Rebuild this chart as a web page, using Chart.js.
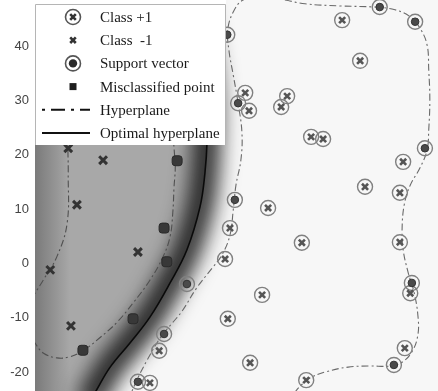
<!DOCTYPE html>
<html>
<head>
<meta charset="utf-8">
<script src="https://cdn.jsdelivr.net/npm/chart.js@4/dist/chart.umd.min.js"></script>
<style>
html, body { margin: 0; padding: 0; background: #fff; }
#wrap { width: 438px; height: 391px; position: relative; }
</style>
</head>
<body>
<div id="wrap"><canvas id="chart"></canvas></div>
<script>
let yTicks = [40, 30, 20, 10, 0, -10, -20];
let xRange = [-25, 49];
let yRange = [-23.5, 48.5];
let legendLabels = ["Class +1", "Class  -1", "Support vector", "Misclassified point", "Hyperplane", "Optimal hyperplane"];

// class -1 samples
let negX = [-18.9, -12.5, -17.3, -6.1, -22.2, -18.4];
let negY = [21.2, 19.0, 10.8, 2.1, -1.2, -11.5];

// misclassified points
let misX = [1.1, -1.3, -0.8, -7.0, -16.2];
let misY = [18.9, 6.5, 0.3, -10.2, -16.0];

// support vectors
let svX = [10.3, 12.3, 38.3, 44.8, 46.6, 11.7, 2.9, -1.3, -6.1, 44.2, 40.9];
let svY = [42.1, 29.5, 47.2, 44.5, 21.2, 11.7, -3.8, -13.0, -21.8, -3.6, -18.7];

// class +1 samples
let posX = [13.6, 14.3, 21.3, 20.2, 31.4, 34.7, 25.7, 27.9, 42.6, 35.6, 42.0, 17.8, 10.8, 24.0, 42.0, 9.9, 16.7, 43.9, 10.4, -2.2, 42.9, 14.5, 24.8, -3.9];
let posY = [31.4, 28.1, 30.8, 28.8, 44.8, 37.3, 23.3, 22.9, 18.7, 14.1, 13.0, 10.2, 6.5, 3.8, 3.9, 0.8, -5.8, -5.5, -10.2, -16.1, -15.6, -18.3, -21.5, -22.0];

// optimal hyperplane
let optX = [-15.3, -13.8, -11.2, -7.6, -3.9, -0.2, 2.9, 5.3, 6.2, 6.6, 6.6, 5.8, 4.4, 3.1];
let optY = [-26.1, -23.5, -19.1, -14.7, -9.9, -3.6, 2.5, 10.4, 16.6, 22.7, 30.1, 37.5, 44.8, 50.3];

// hyperplane around class -1
let hypNegX = [-26.8, -25.4, -23.5, -21.0, -19.1, -18.9, -18.9, -18.2, -14.9, -9.4, -3.9, -0.6, 0.7, 0.5, 0.3, -0.2, -1.5, -3.9, -7.0, -9.9, -13.1, -16.2, -18.6, -21.0, -23.5, -25.0, -26.8];
let hypNegY = [-9.0, -6.2, -3.1, 1.2, 7.4, 16.6, 22.7, 30.1, 34.7, 35.6, 32.8, 27.3, 19.0, 13.5, 9.3, 4.9, 1.2, -3.1, -7.3, -10.8, -13.7, -16.1, -17.2, -17.4, -16.5, -14.7, -12.3];

// hyperplane around class +1
let hypPosX = [-7.9, -6.3, -4.4, -2.0, 0.2, 2.0, 4.7, 7.5, 9.3, 10.8, 11.4, 11.9, 12.8, 13.0, 12.3, 11.4, 10.6, 10.4, 11.4, 13.2, 16.7, 20.9, 24.6, 31.0, 37.4, 41.1, 43.9, 45.7, 47.0, 47.3, 47.5, 47.3, 47.0, 45.7, 43.9, 42.8, 42.4, 42.6, 43.5, 44.6, 45.3, 45.3, 44.2, 42.4, 40.2, 36.5, 32.5, 28.3, 25.5, 23.7, 22.2];
let hypPosY = [-25.2, -21.5, -17.8, -13.7, -11.0, -8.8, -4.5, -0.9, 1.5, 5.2, 9.8, 14.4, 19.0, 24.0, 29.5, 34.7, 39.3, 43.0, 46.3, 48.5, 49.2, 48.5, 47.8, 47.4, 47.2, 46.7, 45.4, 43.3, 40.2, 35.6, 30.1, 24.6, 20.9, 17.6, 14.4, 10.8, 6.1, 2.5, -1.6, -5.3, -9.5, -13.2, -16.3, -18.2, -18.9, -18.9, -19.1, -20.0, -21.1, -22.6, -24.4];

function toPoints(xs, ys) {
    return xs.map(function (x, i) { return {x: x, y: ys[i]}; });
}

let optPts = toPoints(optX, optY);
// region of class -1: the optimal curve closed off far to the left
let shadePts = optPts.concat([
    {x: xRange[0] - 40, y: optY[optY.length - 1] + 20},
    {x: xRange[0] - 40, y: optY[0] - 20}
]);

const blurBand = {
    id: "blurBand",
    beforeDatasetDraw(chart, args) {
        let ds = chart.data.datasets[args.index];
        if (ds.blur) {
            chart.ctx.save();
            chart.ctx.filter = "blur(" + ds.blur + "px)";
        }
    },
    afterDatasetDraw(chart, args) {
        if (chart.data.datasets[args.index].blur) chart.ctx.restore();
    }
};

const areaBg = {
    id: "areaBg",
    beforeDraw(chart) {
        let a = chart.chartArea;
        chart.ctx.save();
        chart.ctx.fillStyle = "#f7f7f7";
        chart.ctx.fillRect(a.left, a.top, a.right - a.left, a.bottom - a.top);
        chart.ctx.restore();
    }
};

const legendBox = {
    id: "legendBox",
    afterDraw(chart) {
        let ctx = chart.ctx;
        let left = chart.chartArea.left;
        let w = 191, bottom = 145, top = 4;
        ctx.save();
        ctx.fillStyle = "#fff";
        ctx.fillRect(left, 0, w, bottom);
        ctx.strokeStyle = "#b5b5b5";
        ctx.lineWidth = 1;
        ctx.beginPath();
        ctx.moveTo(left + 0.5, bottom);
        ctx.lineTo(left + 0.5, top + 0.5);
        ctx.lineTo(left + w - 0.5, top + 0.5);
        ctx.lineTo(left + w - 0.5, bottom);
        ctx.stroke();

        let cx = left + 38;
        let rows = legendLabels.map(function (t, i) { return top + 13 + i * 23.2; });
        // class +1
        ctx.strokeStyle = "#555"; ctx.lineWidth = 1.6;
        ctx.beginPath(); ctx.arc(cx, rows[0], 7.5, 0, Math.PI * 2); ctx.stroke();
        ctx.strokeStyle = "#333"; ctx.lineWidth = 2.6;
        ctx.beginPath();
        ctx.moveTo(cx - 2.8, rows[0] - 2.8); ctx.lineTo(cx + 2.8, rows[0] + 2.8);
        ctx.moveTo(cx + 2.8, rows[0] - 2.8); ctx.lineTo(cx - 2.8, rows[0] + 2.8);
        ctx.stroke();
        // class -1
        ctx.strokeStyle = "#333"; ctx.lineWidth = 2.6;
        ctx.beginPath();
        ctx.moveTo(cx - 2.8, rows[1] - 2.8); ctx.lineTo(cx + 2.8, rows[1] + 2.8);
        ctx.moveTo(cx + 2.8, rows[1] - 2.8); ctx.lineTo(cx - 2.8, rows[1] + 2.8);
        ctx.stroke();
        // support vector
        ctx.strokeStyle = "#555"; ctx.lineWidth = 1.6;
        ctx.beginPath(); ctx.arc(cx, rows[2], 7.5, 0, Math.PI * 2); ctx.stroke();
        ctx.fillStyle = "#2a2a2a";
        ctx.beginPath(); ctx.arc(cx, rows[2], 4.2, 0, Math.PI * 2); ctx.fill();
        // misclassified
        ctx.fillStyle = "#1e1e1e";
        ctx.fillRect(cx - 3.5, rows[3] - 3.5, 7, 7);
        // hyperplane
        ctx.strokeStyle = "#111"; ctx.lineWidth = 2;
        ctx.setLineDash([3, 6, 14, 6]);
        ctx.beginPath(); ctx.moveTo(left + 7, rows[4]); ctx.lineTo(left + 55, rows[4]); ctx.stroke();
        ctx.setLineDash([]);
        ctx.beginPath(); ctx.moveTo(left + 7, rows[5]); ctx.lineTo(left + 55, rows[5]); ctx.stroke();

        ctx.font = '15px "Liberation Serif", "Times New Roman", serif';
        ctx.fillStyle = "#1a1a1a";
        ctx.textBaseline = "middle";
        legendLabels.forEach(function (t, i) { ctx.fillText(t, left + 65, rows[i] + 1); });
        ctx.restore();
    }
};

function shadeFill(context) {
    let chart = context.chart;
    let a = chart.chartArea;
    if (!a) return "#a6a6a6";
    let g = chart.ctx.createLinearGradient(a.left, 0, a.left + 35, 0);
    g.addColorStop(0, "#7a7a7a");
    g.addColorStop(1, "#a8a8a8");
    return g;
}

new Chart(document.getElementById("chart"), {
    type: "scatter",
    data: {
        datasets: [
            {data: shadePts, showLine: true, fill: "shape", backgroundColor: shadeFill, borderWidth: 0,
                pointRadius: 0, tension: 0.4, order: 10, clip: 0},
            {data: optPts, showLine: true, borderColor: "rgba(15,15,15,0.85)", borderWidth: 28, blur: 10,
                pointRadius: 0, tension: 0.4, order: 9, clip: 0},
            {data: optPts, showLine: true, borderColor: "#0a0a0a", borderWidth: 1.6,
                pointRadius: 0, tension: 0.4, order: 8, clip: 0},
            {data: toPoints(hypNegX, hypNegY), showLine: true, borderColor: "#505050", borderWidth: 1.1,
                borderDash: [7, 3, 2, 3], pointRadius: 0, tension: 0.4, order: 7, clip: 0},
            {data: toPoints(hypPosX, hypPosY), showLine: true, borderColor: "#6a6a6a", borderWidth: 1.1,
                borderDash: [7, 3, 2, 3], pointRadius: 0, tension: 0.4, order: 7, clip: 0},
            {data: toPoints(posX, posY), pointStyle: "circle", pointRadius: 7.5, borderColor: "#808080",
                borderWidth: 1.4, backgroundColor: "rgba(0,0,0,0)", order: 3},
            {data: toPoints(posX, posY), pointStyle: "crossRot", pointRadius: 4.3, borderColor: "#555",
                borderWidth: 2.6, order: 2},
            {data: toPoints(svX, svY), pointStyle: "circle", pointRadius: 7.5, borderColor: "#808080",
                borderWidth: 1.4, backgroundColor: "rgba(0,0,0,0)", order: 3},
            {data: toPoints(svX, svY), pointStyle: "circle", pointRadius: 3.8, borderColor: "#333",
                borderWidth: 1, backgroundColor: "#4a4a4a", order: 2},
            {data: toPoints(misX, misY), pointStyle: "rectRounded", pointRadius: 5.8, borderColor: "#2a2a2a",
                borderWidth: 1, backgroundColor: "#383838", order: 2},
            {data: toPoints(negX, negY), pointStyle: "crossRot", pointRadius: 5.5, borderColor: "#333",
                borderWidth: 3, order: 2}
        ]
    },
    options: {
        responsive: true,
        maintainAspectRatio: false,
        animation: false,
        events: [],
        layout: {padding: 0, autoPadding: false},
        plugins: {legend: {display: false}, tooltip: {enabled: false}},
        scales: {
            x: {type: "linear", min: xRange[0], max: xRange[1], display: false},
            y: {
                min: yRange[0], max: yRange[1],
                grid: {display: false, drawTicks: false},
                border: {display: false},
                ticks: {color: "#444", padding: 6, font: {family: '"Liberation Sans", Arial, sans-serif', size: 13}},
                afterBuildTicks: function (s) { s.ticks = yTicks.map(function (v) { return {value: v}; }); },
                afterFit: function (s) { s.width = 35; s.paddingTop = 0; s.paddingBottom = 0; }
            }
        }
    },
    plugins: [areaBg, blurBand, legendBox]
});
</script>
</body>
</html>
